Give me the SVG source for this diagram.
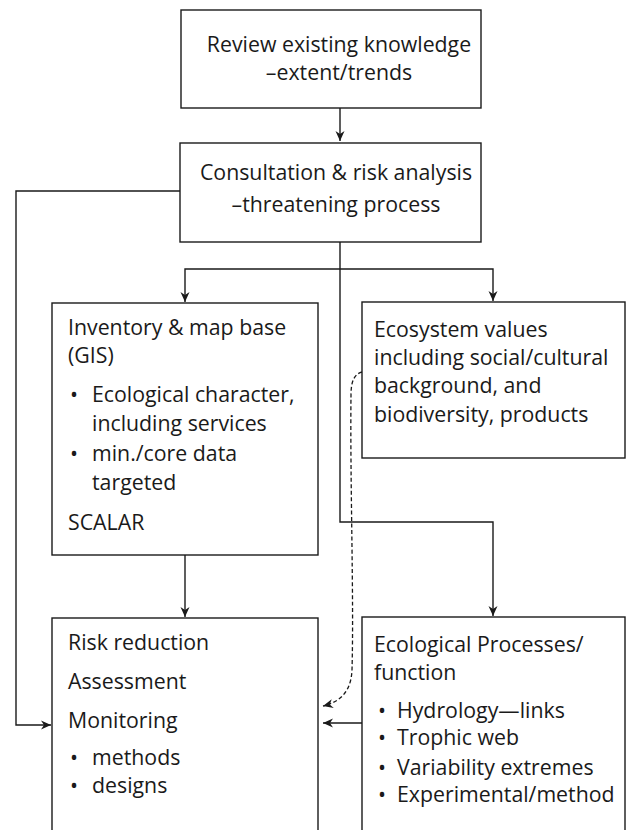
<svg xmlns="http://www.w3.org/2000/svg" width="628" height="830" viewBox="0 0 628 830">
  <defs>
    <marker id="arrow" viewBox="0 0 10 10" refX="10" refY="5" markerWidth="10" markerHeight="10" markerUnits="userSpaceOnUse" orient="auto">
      <path d="M0,0.5 L10,5 L0,9.5 L3,5 Z" fill="#1a1a1a"/>
    </marker>
  </defs>
  <style>
    .box { fill: #ffffff; stroke: #1a1a1a; stroke-width: 1.4; }
    .t { font-family: "Open Sans", "Noto Sans", "Liberation Sans", sans-serif; font-size: 21.3px; fill: #1a1a1a; }
    .c { text-anchor: middle; }
    .link { fill: none; stroke: #1a1a1a; stroke-width: 1.4; }
    .dash { fill: none; stroke: #1a1a1a; stroke-width: 1.3; stroke-dasharray: 4 2.5; }
  </style>
  <rect width="628" height="830" fill="#ffffff"/>

  <g id="connectors">
    <path class="link" d="M340,108 V141" marker-end="url(#arrow)"/>
    <path class="link" d="M180,191 H16 V725 H51" marker-end="url(#arrow)"/>
    <path class="link" d="M340,242 V522 H493 V616" marker-end="url(#arrow)"/>
    <path class="link" d="M340,269 H185 V302" marker-end="url(#arrow)"/>
    <path class="link" d="M340,269 H493 V301" marker-end="url(#arrow)"/>
    <path class="link" d="M185,555 V617" marker-end="url(#arrow)"/>
    <path class="link" d="M362,723 H323" marker-end="url(#arrow)"/>
    <path class="dash" d="M362,372 C354,374 351,382 351,395 C350,480 354,600 352,670 C351,692 340,702 323,706" marker-end="url(#arrow)"/>
  </g>

  <g id="review">
    <rect class="box" x="181" y="10" width="300" height="98"/>
    <text class="t c" x="339" y="52">Review existing knowledge</text>
    <text class="t c" x="339" y="80">–extent/trends</text>
  </g>

  <g id="consultation">
    <rect class="box" x="180" y="143" width="301" height="99"/>
    <text class="t c" x="336" y="180">Consultation &amp; risk analysis</text>
    <text class="t c" x="336" y="212">–threatening process</text>
  </g>

  <g id="inventory">
    <rect class="box" x="52" y="303" width="266" height="252"/>
    <text class="t" x="68" y="335">Inventory &amp; map base</text>
    <text class="t" x="68" y="363">(GIS)</text>
    <text class="t" x="70" y="402">•</text>
    <text class="t" x="92" y="402">Ecological character,</text>
    <text class="t" x="92" y="431">including services</text>
    <text class="t" x="70" y="461">•</text>
    <text class="t" x="92" y="461">min./core data</text>
    <text class="t" x="92" y="490">targeted</text>
    <text class="t" x="68" y="530">SCALAR</text>
  </g>

  <g id="ecosystem">
    <rect class="box" x="362" y="302" width="263" height="156"/>
    <text class="t" x="374" y="337">Ecosystem values</text>
    <text class="t" x="374" y="365">including social/cultural</text>
    <text class="t" x="374" y="393">background, and</text>
    <text class="t" x="374" y="422">biodiversity, products</text>
  </g>

  <g id="risk">
    <rect class="box" x="52" y="618" width="266" height="230"/>
    <text class="t" x="68" y="650">Risk reduction</text>
    <text class="t" x="68" y="689">Assessment</text>
    <text class="t" x="68" y="728">Monitoring</text>
    <text class="t" x="70" y="765">•</text>
    <text class="t" x="92" y="765">methods</text>
    <text class="t" x="70" y="793">•</text>
    <text class="t" x="92" y="793">designs</text>
  </g>

  <g id="processes">
    <rect class="box" x="362" y="617" width="263" height="230"/>
    <text class="t" x="374" y="652">Ecological Processes/</text>
    <text class="t" x="374" y="680">function</text>
    <text class="t" x="378" y="718">•</text>
    <text class="t" x="397" y="718">Hydrology—links</text>
    <text class="t" x="378" y="745">•</text>
    <text class="t" x="397" y="745">Trophic web</text>
    <text class="t" x="378" y="775">•</text>
    <text class="t" x="397" y="775">Variability extremes</text>
    <text class="t" x="378" y="802">•</text>
    <text class="t" x="397" y="802">Experimental/method</text>
  </g>
</svg>
